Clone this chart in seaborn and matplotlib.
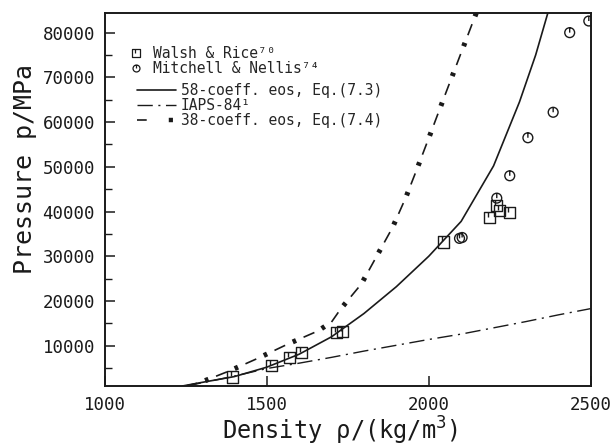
import numpy as np
import pandas as pd
import matplotlib
matplotlib.use("Agg")
import matplotlib.pyplot as plt
import seaborn as sns
from matplotlib.path import Path
from matplotlib.lines import Line2D
from matplotlib.legend_handler import HandlerTuple

# ---------------- data ----------------
walsh_rho = [1394, 1514, 1571, 1607, 1715, 1734, 2046, 2188, 2210, 2219, 2250]
walsh_p = [3000, 5500, 7400, 8400, 13000, 13100, 33200, 38700, 41300, 40300, 39800]

mitchell_rho = [2095, 2103, 2210, 2250, 2306, 2384, 2435, 2494]
mitchell_p = [34000, 34200, 43000, 48000, 56500, 62200, 80000, 82600]

eos58_rho = [1240, 1300, 1400, 1500, 1600, 1700, 1800, 1900, 2000, 2100, 2200, 2280, 2330, 2368]
eos58_p = [1000, 1800, 3100, 5200, 8100, 12000, 17200, 23200, 30000, 37800, 50200, 64500, 75000, 84500]

iaps_rho = [1250, 1300, 1400, 1500, 1600, 1700, 1800, 1900, 2000, 2100, 2200, 2300, 2400, 2500]
iaps_p = [1000, 1700, 3200, 4900, 6100, 7400, 8800, 10100, 11400, 12600, 14000, 15400, 16900, 18300]

eos38_rho = [1250, 1293, 1386, 1476, 1566, 1658, 1700, 1728, 1792, 1888, 1929, 1962, 2000, 2050, 2100, 2150]
eos38_p = [1000, 1740, 4400, 7300, 10400, 13300, 15300, 18200, 23800, 36400, 43100, 49200, 56400, 66000, 75500, 85000]

x_ticks = [1000, 1500, 2000, 2500]
y_ticks = [10000, 20000, 30000, 40000, 50000, 60000, 70000, 80000]

labels = ["Walsh & Rice⁷⁰", "Mitchell & Nellis⁷⁴",
          "58-coeff. eos, Eq.(7.3)", "IAPS-84¹", "38-coeff. eos, Eq.(7.4)"]

# ---------------- style ----------------
sns.set_theme(style="white")
plt.rcParams["font.family"] = ["DejaVu Sans Mono", "DejaVu Sans"]
plt.rcParams["mathtext.fontset"] = "dejavusans"
plt.rcParams["lines.scale_dashes"] = False

fig = plt.figure(figsize=(6.16, 4.47), dpi=100)
ax = fig.add_axes([0.170, 0.1365, 0.789, 0.8355])

# curves
sns.lineplot(x=eos58_rho, y=eos58_p, ax=ax, color="k", lw=1.2, sort=False, estimator=None)
l58 = ax.lines[-1]
sns.lineplot(x=iaps_rho, y=iaps_p, ax=ax, color="k", lw=1.0, sort=False, estimator=None)
liaps = ax.lines[-1]
liaps.set_linestyle((0, (11, 4, 1.5, 4)))
sns.lineplot(x=eos38_rho, y=eos38_p, ax=ax, color="k", lw=1.2, sort=False, estimator=None)
l38a = ax.lines[-1]
l38a.set_linestyle((0, (8.5, 14.5)))
sns.lineplot(x=eos38_rho, y=eos38_p, ax=ax, color="k", lw=3.6, sort=False, estimator=None)
l38b = ax.lines[-1]
l38b.set_linestyle((8.5, (2.6, 20.4)))
l38b.set_dash_capstyle("butt")

# markers
sq_path = Path.make_compound_path(
    Path([(-1, -1), (1, -1), (1, 1), (-1, 1), (-1, -1)],
         [Path.MOVETO, Path.LINETO, Path.LINETO, Path.LINETO, Path.CLOSEPOLY]),
    Path([(-0.3, 1), (-0.3, 0.1)]))
circ_path = Path.make_compound_path(Path.unit_circle(), Path([(0, 1), (0, 0)]))

sns.scatterplot(x=walsh_rho, y=walsh_p, ax=ax, marker=sq_path, s=64,
                edgecolor="k", linewidth=1.0)
ax.collections[-1].set_facecolor("none")
ax.collections[-1].set_edgecolor("k")
sns.scatterplot(x=mitchell_rho, y=mitchell_p, ax=ax, marker=circ_path, s=50,
                edgecolor="k", linewidth=1.0)
ax.collections[-1].set_facecolor("none")
ax.collections[-1].set_edgecolor("k")

# axes
ax.set_xlim(1000, 2500)
ax.set_ylim(1000, 84500)
ax.set_xticks(x_ticks)
ax.set_yticks(y_ticks)
ax.set_yticks(np.arange(5000, 84000, 10000), minor=True)
ax.tick_params(axis="both", which="both", direction="in", left=True, bottom=True,
               top=False, right=False, labelsize=12.5, color="k", labelcolor="k")
ax.tick_params(axis="both", which="major", length=7, width=1.1, pad=7)
ax.tick_params(axis="y", which="minor", length=5, width=1.0)
for s in ax.spines.values():
    s.set_color("k")
    s.set_linewidth(1.4)
ax.set_xlabel("Density ρ/(kg/m$^3$)", fontsize=17, color="k")
ax.xaxis.set_label_coords(0.484, -0.078)
ax.set_ylabel("Pressure p/MPa", fontsize=18, color="k")
ax.yaxis.set_label_coords(-0.14, 0.58)

# legends
h_sq = Line2D([], [], marker=sq_path, ls="none", mfc="none", mec="k", ms=5.5, mew=0.9)
h_ci = Line2D([], [], marker=circ_path, ls="none", mfc="none", mec="k", ms=5, mew=0.9)
h38a = Line2D([], [], color="k", lw=1.2, ls=(0, (7, 7.4)))
h38b = Line2D([], [], color="k", lw=3.2, ls=(5.2, (3, 11.4)), dash_capstyle="butt")
leg1 = ax.legend([h_sq, h_ci], labels[:2], loc="upper left", bbox_to_anchor=(0.055, 0.91),
                 frameon=False, fontsize=10.5, handlelength=0.6, handletextpad=0.9,
                 labelspacing=0.0, borderaxespad=0, borderpad=0)
ax.add_artist(leg1)
leg2 = ax.legend([l58, liaps, (h38a, h38b)], labels[2:], loc="upper left",
                 bbox_to_anchor=(0.066, 0.81), frameon=False, fontsize=10.5,
                 handlelength=2.7, handletextpad=0.3, labelspacing=0.0,
                 borderaxespad=0, borderpad=0,
                 handler_map={tuple: HandlerTuple(ndivide=None, pad=0)})

fig.savefig("out.png", dpi=100)
